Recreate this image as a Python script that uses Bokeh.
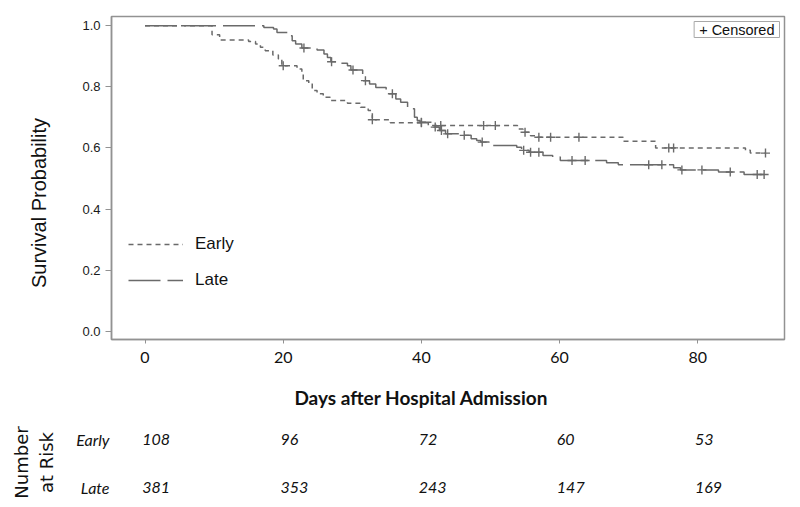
import numpy as np
from bokeh.plotting import figure
from bokeh.models import Range1d, FixedTicker, PrintfTickFormatter, Legend, LegendItem, Label
from bokeh.layouts import column
from bokeh.embed import file_html
from bokeh.resources import INLINE
from bokeh.core.properties import value

# ---------------- data ----------------
early_time = [0, 9.7, 10.8, 15.0, 16.0, 16.7, 17.4, 18.5, 19.3, 19.8,
              22.0, 22.7, 22.9, 23.7, 24.2, 24.9, 25.8, 26.8, 29.3, 31.2,
              32.3, 32.9, 35.5, 41.0, 53.9, 54.7, 55.8, 56.5, 69.2, 73.9,
              86.9, 87.6, 89.8]
early_surv = [1.0, 0.970, 0.953, 0.948, 0.940, 0.929, 0.918, 0.904, 0.891, 0.869,
              0.858, 0.847, 0.820, 0.809, 0.788, 0.777, 0.766, 0.755, 0.746, 0.733,
              0.722, 0.692, 0.682, 0.673, 0.662, 0.651, 0.640, 0.635, 0.622, 0.600,
              0.592, 0.583, 0.583]
early_censor = [20.0, 32.9, 40.0, 42.8, 49.0, 50.7, 55.0, 57.0, 58.7, 62.8,
                75.8, 76.5, 89.8]

late_time = [0, 17.2, 18.6, 19.1, 20.7, 21.3, 21.8, 22.7, 24.9, 25.9,
             26.4, 26.9, 28.3, 29.3, 29.8, 31.5, 32.5, 33.4, 34.9, 36.3,
             37.0, 38.0, 39.0, 39.4, 39.8, 41.8, 42.6, 43.5, 46.0, 47.2,
             48.0, 48.6, 49.8, 53.8, 54.5, 55.6, 57.6, 59.0, 60.1, 66.8,
             68.5, 76.5, 77.5, 83.0, 86.7, 89.6]
late_surv = [1.0, 0.994, 0.989, 0.978, 0.967, 0.951, 0.940, 0.927, 0.920, 0.907,
             0.896, 0.882, 0.877, 0.869, 0.855, 0.820, 0.809, 0.798, 0.777, 0.760,
             0.749, 0.728, 0.700, 0.690, 0.684, 0.668, 0.657, 0.646, 0.641, 0.630,
             0.624, 0.619, 0.608, 0.602, 0.592, 0.586, 0.575, 0.570, 0.559, 0.551,
             0.545, 0.535, 0.528, 0.521, 0.513, 0.513]
late_censor = [23.0, 27.0, 30.1, 31.9, 35.8, 40.0, 42.0, 42.9, 43.8, 46.2,
               48.8, 54.8, 55.8, 57.0, 61.8, 63.7, 72.9, 74.8, 77.7, 80.6,
               84.7, 88.6, 89.6]

risk_days = [0, 20, 40, 60, 80]
early_risk = [108, 96, 72, 60, 53]
late_risk = [381, 353, 243, 147, 169]

y_ticks = [0.0, 0.2, 0.4, 0.6, 0.8, 1.0]
x_ticks = [0, 20, 40, 60, 80]
group_labels = ["Early", "Late"]
x_title = "Days after Hospital Admission"
y_title = "Survival Probability"


def level_at(times, surv, t):
    idx = np.searchsorted(np.asarray(times), np.asarray(t), side="right") - 1
    return list(np.asarray(surv)[idx])


early_censor_y = level_at(early_time, early_surv, early_censor)
late_censor_y = level_at(late_time, late_surv, late_censor)

# ---------------- layout ----------------
W = 792
H1, HT, H2 = 375, 35, 95
BL, BR = 111, 8
X0, X1 = -4.85, 92.55
Y0, Y1 = -0.027, 1.030
PX = (W - BL - BR) / (X1 - X0)
PY = (H1 - 16 - 36) / (Y1 - Y0)

GRAY = "#6a6a6a"
FRAME = "#929292"
INK = "#111111"

xr = Range1d(X0, X1)

p = figure(width=W, height=H1, x_range=xr, y_range=Range1d(Y0, Y1),
           output_backend="svg", toolbar_location=None,
           min_border_left=BL, min_border_right=BR, min_border_top=16, min_border_bottom=36)
p.grid.visible = False
p.outline_line_color = FRAME
p.outline_line_width = 1.5

p.xaxis.ticker = FixedTicker(ticks=x_ticks)
p.xaxis.major_tick_out = 4
p.xaxis.major_tick_in = 0
p.xaxis.minor_tick_out = 0
p.xaxis.minor_tick_in = 0
p.xaxis.axis_line_color = FRAME
p.xaxis.axis_line_width = 1.5
p.xaxis.major_tick_line_color = FRAME
p.xaxis.major_label_text_font = "Lato"
p.xaxis.major_label_text_font_size = "16px"
p.xaxis.major_label_text_color = INK
p.xaxis.major_label_standoff = 8

p.yaxis.ticker = FixedTicker(ticks=y_ticks)
p.yaxis.formatter = PrintfTickFormatter(format="%.1f")
p.yaxis.major_tick_out = 6
p.yaxis.major_tick_in = 0
p.yaxis.minor_tick_out = 0
p.yaxis.minor_tick_in = 0
p.yaxis.axis_line_color = FRAME
p.yaxis.axis_line_width = 1.5
p.yaxis.major_tick_line_color = FRAME
p.yaxis.major_label_text_font = "Liberation Sans"
p.yaxis.major_label_text_font_size = "13px"
p.yaxis.major_label_text_color = "#1a1a1a"
p.yaxis.major_label_standoff = 5
# trailing no-break spaces move the centred title down to where the original sits
p.yaxis.axis_label = y_title + "\u00a0" * 9
p.yaxis.axis_label_text_font = "Liberation Sans"
p.yaxis.axis_label_text_font_size = "20px"
p.yaxis.axis_label_text_font_style = "normal"
p.yaxis.axis_label_text_color = INK
p.yaxis.axis_label_standoff = 29

early_r = p.step(early_time, early_surv, mode="after", line_color=GRAY,
                 line_width=1.5, line_dash="5 4")
late_r = p.step(late_time, late_surv, mode="after", line_color=GRAY,
                line_width=1.5, line_dash="32 7")
p.scatter(early_censor, early_censor_y, marker="cross", size=9,
          line_color=GRAY, line_width=1.4)
p.scatter(late_censor, late_censor_y, marker="cross", size=9,
          line_color=GRAY, line_width=1.4)

leg = Legend(items=[LegendItem(label=group_labels[0], renderers=[early_r]),
                    LegendItem(label=group_labels[1], renderers=[late_r])],
             location=(17, 49), orientation="vertical", padding=0, margin=0,
             spacing=16, glyph_width=55, glyph_height=20, label_height=20,
             label_standoff=12, border_line_color=None, background_fill_alpha=0,
             label_text_font="Liberation Sans", label_text_font_size="17px",
             label_text_color=INK)
p.add_layout(leg)

p.add_layout(Label(x=X1 - 5 / PX, y=Y1 - 5 / PY, text="+ Censored",
                   text_align="right", text_baseline="top",
                   text_font="Liberation Sans", text_font_size="14.5px",
                   text_color=INK, border_line_color="#a8a8a8",
                   border_line_width=1, background_fill_color="white",
                   padding=(5, 0)))

# ---------------- x-axis title row ----------------
t = figure(width=W, height=HT, x_range=xr, y_range=Range1d(HT, 0),
           output_backend="svg", toolbar_location=None,
           min_border_left=BL, min_border_right=BR, min_border_top=0, min_border_bottom=0,
           x_axis_location=None, y_axis_location=None, outline_line_color=None)
t.grid.visible = False
t.text(x=[40], y=[22], text=[x_title],
       text_font=value("Lato"), text_font_style="bold", text_font_size="19px",
       text_color=INK, text_align="center", text_baseline="middle")

# ---------------- number at risk panel ----------------
ROW = 47.4
ys0 = -(505 - 486.7) / ROW
q = figure(width=W, height=H2, x_range=xr,
           y_range=Range1d(ys0, ys0 + (H2 - 9) / ROW),
           output_backend="svg", toolbar_location=None,
           min_border_left=BL, min_border_right=BR, min_border_top=9, min_border_bottom=0,
           x_axis_location=None, outline_line_color=None)
q.grid.visible = False
q.yaxis.ticker = FixedTicker(ticks=[0, 1])
q.yaxis.major_label_overrides = {1: group_labels[0], 0: group_labels[1]}
q.yaxis.axis_line_color = None
q.yaxis.major_tick_line_color = None
q.yaxis.minor_tick_line_color = None
q.yaxis.major_tick_out = 0
q.yaxis.major_label_standoff = 2
q.yaxis.major_label_text_font = "Lato"
q.yaxis.major_label_text_font_style = "italic"
q.yaxis.major_label_text_font_size = "16px"
q.yaxis.major_label_text_color = INK
q.yaxis.axis_label = "Number\nat Risk"
q.yaxis.axis_label_text_font = "DejaVu Sans"
q.yaxis.axis_label_text_font_style = "normal"
q.yaxis.axis_label_text_font_size = "18px"
q.yaxis.axis_label_text_color = INK
q.yaxis.axis_label_standoff = 16

q.text(x=[d - 0.4 for d in risk_days], y=[1] * len(risk_days),
       text=[str(v) for v in early_risk], text_font=value("Lato"),
       text_font_style="italic", text_font_size="16px", text_color=INK,
       text_align="left", text_baseline="middle")
q.text(x=[d - 0.4 for d in risk_days], y=[0] * len(risk_days),
       text=[str(v) for v in late_risk], text_font=value("Lato"),
       text_font_style="italic", text_font_size="16px", text_color=INK,
       text_align="left", text_baseline="middle")

layout = column(p, t, q, spacing=0)
open("out.html", "w").write(file_html(layout, INLINE))
